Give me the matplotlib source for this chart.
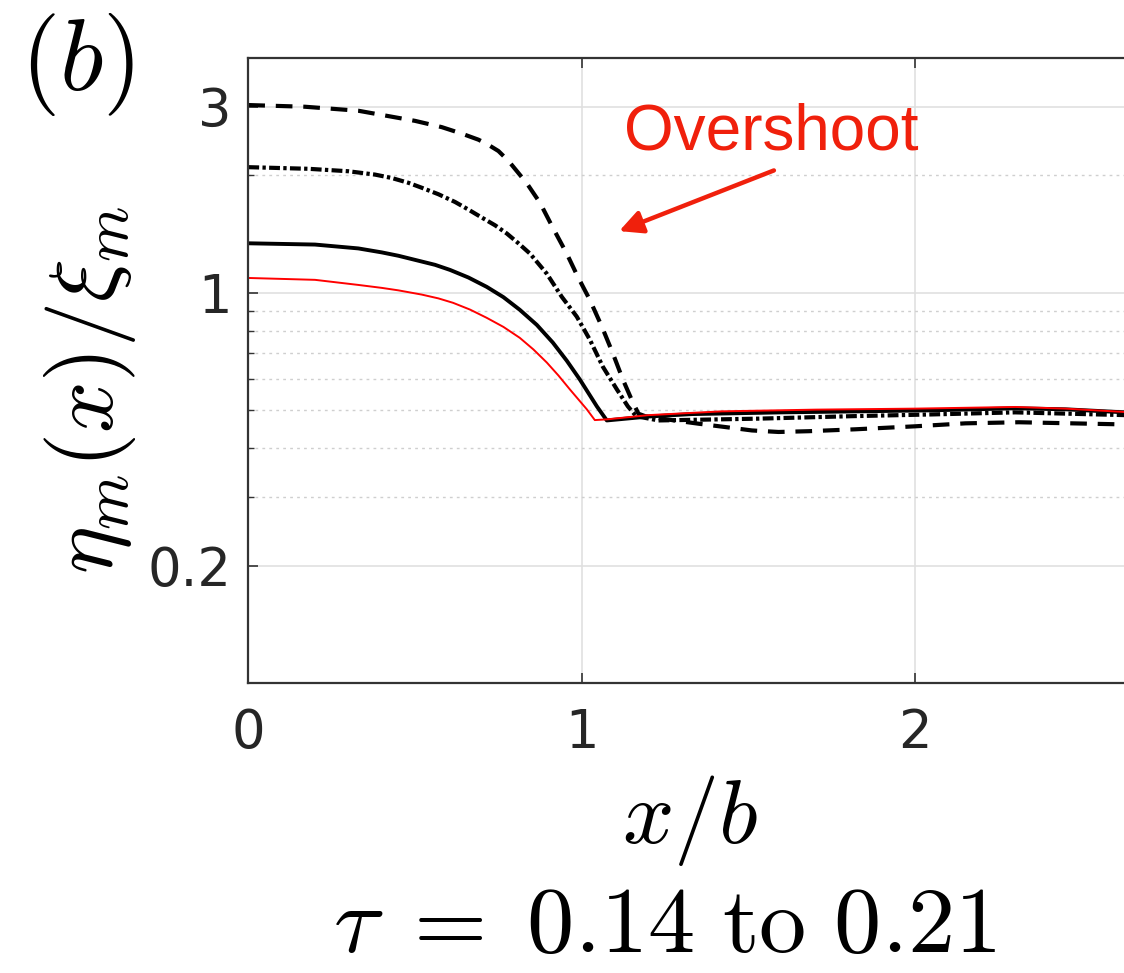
import matplotlib
matplotlib.use('Agg')
import matplotlib.pyplot as plt
from matplotlib.ticker import FixedLocator, NullFormatter

plt.rcParams['mathtext.fontset'] = 'cm'
plt.rcParams['font.family'] = ['DejaVu Sans']

# ---- data ----
x_dash = [0, 0.17, 0.33, 0.5, 0.58, 0.64, 0.69, 0.715, 0.75, 0.78, 0.835, 0.875, 0.913,
          0.955, 0.988, 1.024, 1.06, 1.093, 1.123, 1.153, 1.17, 1.19, 1.27, 1.35, 1.43,
          1.51, 1.59, 1.68, 1.82, 2.0, 2.15, 2.31, 2.47, 2.63]
y_dash = [3.03, 3.0, 2.93, 2.76, 2.66, 2.56, 2.47, 2.41, 2.31, 2.18, 1.91, 1.70, 1.47,
          1.26, 1.10, 0.96, 0.82, 0.70, 0.60, 0.524, 0.49, 0.483, 0.472, 0.462, 0.453,
          0.444, 0.44, 0.442, 0.447, 0.455, 0.463, 0.466, 0.463, 0.46]

x_dashdot = [0, 0.18, 0.3, 0.38, 0.43, 0.48, 0.52, 0.57, 0.62, 0.66, 0.70, 0.74, 0.775,
             0.81, 0.845, 0.895, 0.94, 0.985, 1.024, 1.063, 1.105, 1.138, 1.163, 1.23,
             1.53, 1.81, 2.05, 2.30, 2.63]
y_dashdot = [2.10, 2.08, 2.05, 2.01, 1.97, 1.915, 1.86, 1.79, 1.71, 1.635, 1.56, 1.49, 1.42,
             1.34, 1.26, 1.12, 0.977, 0.869, 0.759, 0.647, 0.566, 0.512, 0.483, 0.471,
             0.476, 0.483, 0.488, 0.494, 0.486]

x_solid = [0, 0.2, 0.33, 0.4, 0.45, 0.5, 0.56, 0.605, 0.66, 0.715, 0.765, 0.814, 0.865,
           0.913, 0.955, 0.994, 1.045, 1.075, 1.2, 1.33, 1.6, 1.83, 2.05, 2.30, 2.45, 2.63]
y_solid = [1.34, 1.33, 1.30, 1.27, 1.245, 1.215, 1.18, 1.145, 1.095, 1.036, 0.975, 0.905,
           0.828, 0.746, 0.67, 0.60, 0.512, 0.471, 0.482, 0.489, 0.494, 0.497, 0.500,
           0.506, 0.503, 0.494]

x_red = [0, 0.2, 0.33, 0.4, 0.45, 0.52, 0.57, 0.614, 0.665, 0.715, 0.765, 0.814, 0.855,
         0.895, 0.93, 0.964, 1.015, 1.039, 1.075, 1.2, 1.42, 1.7, 2.0, 2.3, 2.45, 2.63]
y_red = [1.092, 1.08, 1.048, 1.03, 1.015, 0.99, 0.968, 0.943, 0.906, 0.863, 0.818, 0.767,
         0.716, 0.663, 0.614, 0.566, 0.503, 0.472, 0.474, 0.486, 0.497, 0.502, 0.505,
         0.51, 0.505, 0.495]

y_major = [0.2, 1, 3]
y_major_labels = ['0.2', '1', '3']
y_minor = [0.3, 0.4, 0.5, 0.6, 0.7, 0.8, 0.9, 2]
x_ticks = [0, 1, 2]
x_tick_labels = ['0', '1', '2']

W, H = 1124, 973
fig = plt.figure(figsize=(W / 100, H / 100), dpi=100)
x0, x1, y0, y1 = 248.3, 1124, 58, 683
ax = fig.add_axes([x0 / W, 1 - y1 / H, (x1 - x0) / W, (y1 - y0) / H])

ax.set_yscale('log')
ax.set_xlim(0, (x1 - x0) / 333.5)
ax.set_ylim(0.1, 4.0)

ax.yaxis.set_major_locator(FixedLocator(y_major))
ax.yaxis.set_minor_locator(FixedLocator(y_minor))
ax.yaxis.set_minor_formatter(NullFormatter())
ax.set_yticklabels(y_major_labels)
ax.set_xticks(x_ticks)
ax.set_xticklabels(x_tick_labels)

ax.grid(True, which='major', color='#e0e0e0', lw=1.2, ls='-')
ax.grid(True, which='minor', axis='y', color='#cfcfcf', lw=1.0, ls=(0, (2, 3)))
ax.set_axisbelow(True)

for s in ['left', 'bottom', 'top']:
    ax.spines[s].set_color('#333333')
    ax.spines[s].set_linewidth(1.6)
ax.spines['right'].set_visible(False)

ax.tick_params(which='major', direction='in', length=7, width=1.2, colors='#333333',
               labelsize=38, labelcolor='#262626', top=True, right=False)
ax.tick_params(axis='y', which='major', pad=12)
ax.tick_params(axis='x', which='major', pad=17)
ax.tick_params(which='minor', direction='in', length=4, width=1.0, colors='#333333',
               right=False)

ax.plot(x_dash, y_dash, color='black', lw=3.0, dashes=(4.0, 2.6))
ax.plot(x_dashdot, y_dashdot, color='black', lw=3.0, dashes=(2.6, 0.8, 0.8, 0.8))
ax.plot(x_solid, y_solid, color='black', lw=2.8)
ax.plot(x_red, y_red, color='#ff0000', lw=1.4)

red = '#f0200c'
ax.annotate('', xy=(1.112, 1.44), xytext=(1.576, 2.06),
            arrowprops=dict(arrowstyle='-|>,head_width=0.35,head_length=0.7',
                            mutation_scale=20, lw=3.2, color=red,
                            shrinkA=0, shrinkB=0))
ax.text(1.568, 2.57, 'Overshoot', color=red, fontsize=46, ha='center', va='center',
        family=['Liberation Sans', 'DejaVu Sans'])

fig.text(90 / W, 1 - 390 / H, r'$\eta_m(x)/\xi_m$', fontsize=65, rotation=90,
         ha='center', va='center')
fig.text(690 / W, 1 - 820 / H, r'$x/b$', fontsize=65, ha='center', va='center')
fig.text(665 / W, 1 - 926 / H, r'$\tau\;=\;0.14\ \mathrm{to}\ 0.21$', fontsize=68,
         ha='center', va='center')
fig.text(77 / W, 1 - 64 / H, r'$(b)$', fontsize=73, ha='center', va='center')

fig.savefig('out.png', dpi=100)
